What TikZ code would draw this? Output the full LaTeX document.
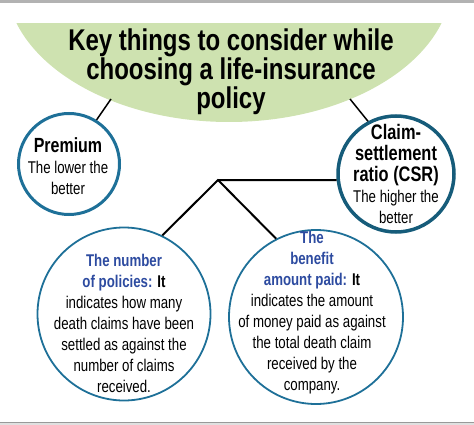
\documentclass[tikz,border=0pt]{standalone}
\usepackage{fontspec}
\setmainfont{Liberation Sans}[FakeStretch=0.78]
\newfontfamily\titlefont{Liberation Sans}[FakeStretch=0.80]
\definecolor{leaf}{RGB}{206,226,176}
\definecolor{ringblue}{RGB}{30,112,152}
\definecolor{ringdark}{RGB}{22,92,122}
\definecolor{termblue}{RGB}{45,75,160}
\newcommand{\term}[1]{{\color{termblue}\bfseries #1}}
\newcommand{\head}[1]{{\fontsize{21}{21}\selectfont\bfseries #1}}
\begin{document}
\begin{tikzpicture}[x=1pt,y=-1pt,
        ring/.style={circle,draw=ringblue,inner sep=0pt},
        txt/.style={align=center,inner sep=0pt,font=\fontsize{17}{21}\selectfont},
        link/.style={line width=1.5pt}]
        \useasboundingbox (0,0) rectangle (474,425);
        \fill[black!30] (0,0) rectangle (474,3);
        \fill[black!12] (0,422) rectangle (474,425);
        \draw[black!40] (0,422.5) -- (474,422.5);

        % green title cap
        \begin{scope}
            \clip (0,24) rectangle (474,140);
            \fill[leaf] (229,-20) ellipse [x radius=223, y radius=142];
        \end{scope}
        \node[align=center,inner sep=0pt,font=\titlefont\bfseries\fontsize{30}{26.5}\selectfont] (title) at (231,72)
            {Key things to consider while\\choosing a life-insurance\\policy};

        \node[ring,line width=3pt,minimum size=101pt] (prem) at (69,164) {};
        \node[ring,draw=ringdark,line width=3.5pt,minimum size=116pt] (csr) at (396,174) {};
        \node[ring,line width=1.8pt,minimum size=173pt] (num) at (124,314) {};
        \node[ring,line width=1.8pt,minimum size=174pt] (ben) at (316,317) {};

        \coordinate (apex) at (218,180);
        \coordinate (lt) at (111,99);
        \coordinate (rt) at (350,99);

        \draw[link] (prem.58) -- (lt);
        \draw[link] (csr.118) -- (rt);
        \draw[link,line width=2pt] (num.64) -- (apex) -- (csr.186);
        \draw[link,line width=2pt] (apex) -- (ben.117);

        \node[txt] (premtxt) at (68,166) {{\fontsize{20.5}{21}\selectfont\bfseries Premium}\\The lower the\\better};
        \node[txt] (csrtxt) at (396,174) {\head{Claim-}\\\head{settlement}\\\head{ratio (CSR)}\\
            The higher the\\better};
        \node[txt] (numtxt) at (124,323) {\term{The number}\\\term{of policies:} \textbf{It}\\
            indicates how many\\death claims have been\\settled as against the\\number of claims\\received.};
        \node[txt] (bentxt) at (312,313) {\term{The}\\\term{benefit}\\\term{amount paid:} \textbf{It}\\
            indicates the amount\\of money paid as against\\the total death claim\\received by the\\company.};
    \end{tikzpicture}
\end{document}
